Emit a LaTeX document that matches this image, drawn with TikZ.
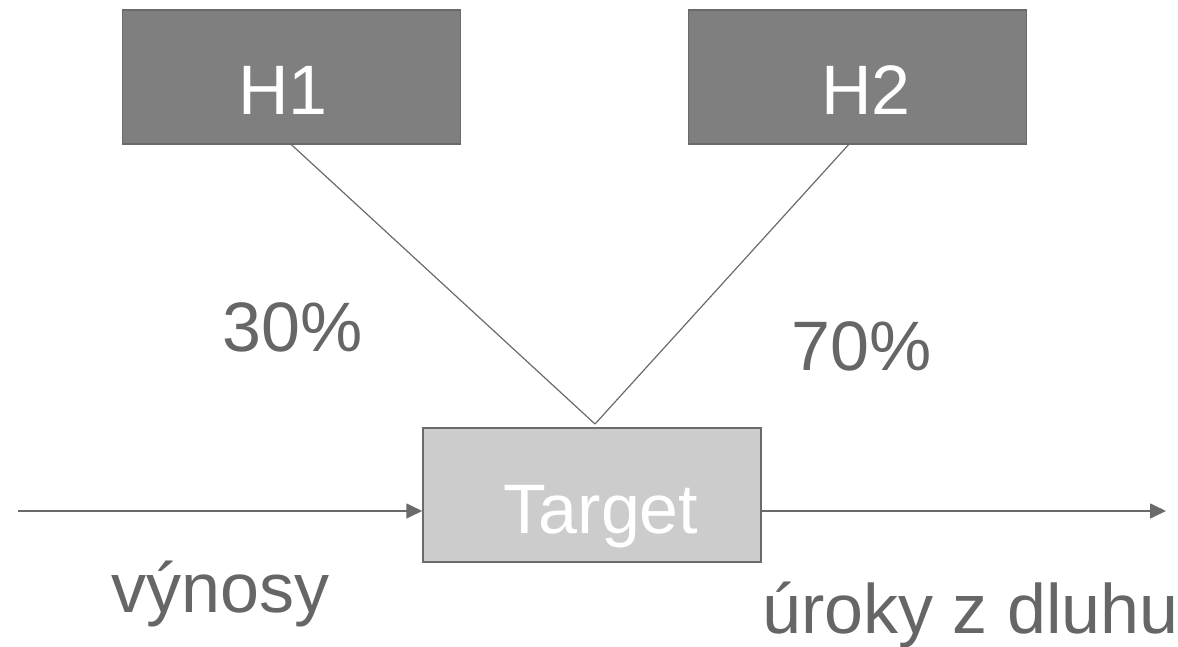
\documentclass[tikz,border=0pt]{standalone}
\usepackage{fontspec}
\setmainfont{Liberation Sans}
\usetikzlibrary{arrows.meta}
\definecolor{txtgray}{HTML}{666666}
\definecolor{linegray}{HTML}{6A6A6A}
\definecolor{hfill}{HTML}{7F7F7F}
\definecolor{tfill}{HTML}{CCCCCC}
\tikzset{
  x=1pt, y=1pt,
  bigfont/.style={font=\fontsize{70}{84}\selectfont},
  hbox/.style={draw=linegray, line width=1.5pt, fill=hfill, minimum width=338pt, minimum height=134pt,
    inner sep=0pt, text=white, bigfont, text height=76pt, text depth=0pt},
  tbox/.style={draw=linegray, line width=1.5pt, fill=tfill, minimum width=338pt, minimum height=134pt,
    inner sep=0pt, text=white, bigfont, text height=76pt, text depth=0pt},
  lbl/.style={text=txtgray, bigfont, inner sep=0pt, anchor=base west},
  conn/.style={draw=linegray, line width=1.2pt},
  arr/.style={draw=linegray, line width=1.6pt, -{Triangle[length=16pt,width=15pt]}},
}
\begin{document}
\begin{tikzpicture}
\useasboundingbox (0,0) rectangle (1178,646);
\node[hbox] (h1) at (291.5,569) {H1\hspace*{17pt}};
\node[hbox] (h2) at (857.5,569) {\hspace*{17pt}H2};
\node[tbox] (t) at (592,151) {\hspace*{18pt}Target};
\coordinate (meet) at (595,222);
\draw[conn] (h1.south) -- (meet);
\draw[conn] ([xshift=-9pt]h2.south) -- (meet);
\coordinate (in) at (18,135);
\coordinate (out) at (1166,135);
\draw[arr] (in) -- (in -| t.west);
\draw[arr] (out -| t.east) -- (out);
\node[lbl] (p30) at (222,294) {30\%};
\node[lbl] (p70) at (791,276) {70\%};
\node[lbl] (vyn) at (111,34) {výnosy};
\node[lbl] (uro) at (762,13) {úroky z dluhu};
\end{tikzpicture}
\end{document}
